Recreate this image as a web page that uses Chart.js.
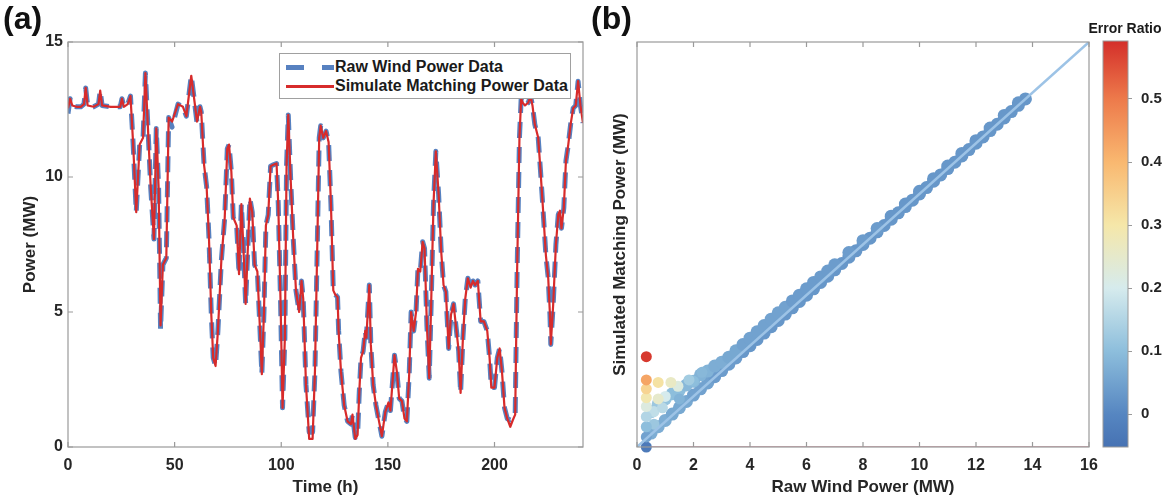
<!DOCTYPE html>
<html>
<head>
<meta charset="utf-8">
<title>Raw vs simulated wind power</title>
<script src="https://cdn.jsdelivr.net/npm/chart.js@4.4.1/dist/chart.umd.min.js"></script>
<style>
  body { margin: 0; background: #fff; }
  #wrap { position: relative; width: 1174px; height: 502px; overflow: hidden;
          font-family: "Liberation Sans", Arial, Helvetica, sans-serif; color: #1a1a1a; }
  canvas { position: absolute; top: 0; }
  .tag { position: absolute; top: 2px; font-size: 32px; font-weight: bold; line-height: 1; color: #111; }
  #legA { position: absolute; left: 279px; top: 53px; width: 290px; height: 44px;
          border: 1px solid #a0a0a0; background: #fff; z-index: 2; }
  #legA .sw { position: absolute; }
  #legA .txt { position: absolute; left: 55px; font-size: 16px; font-weight: bold; line-height: 20px; white-space: nowrap; }
  #cbTitle { position: absolute; left: 1080px; top: 19px; width: 90px; text-align: center;
             font-size: 14px; font-weight: bold; line-height: 18px; }
</style>
</head>
<body>
<div id="wrap">
  <canvas id="chartA" width="600" height="502" style="left:0"></canvas>
  <canvas id="chartB" width="520" height="502" style="left:590px"></canvas>
  <canvas id="chartC" width="84" height="502" style="left:1090px"></canvas>
  <div class="tag" style="left:3px">(a)</div>
  <div class="tag" style="left:591px">(b)</div>
  <div id="legA">
    <div class="sw" style="left:6px;top:11px;width:18px;height:5px;background:#5781c0"></div>
    <div class="sw" style="left:42px;top:11px;width:12px;height:5px;background:#5781c0"></div>
    <div class="txt" style="top:3px">Raw Wind Power Data</div>
    <div class="sw" style="left:6px;top:31px;width:48px;height:2.5px;background:#d72b2b"></div>
    <div class="txt" style="top:22px">Simulate Matching Power Data</div>
  </div>
  <div id="cbTitle">Error Ratio</div>
</div>
<script>
// ---------- data ----------
// (a) time series, hours
const timeH = [
  0, 1, 2, 4, 6, 7.5, 8.3, 9.2, 12, 14.3,
  15.1, 16, 20, 24.5, 25.3, 26.2, 28, 29.3, 30.5, 32,
  33.6, 35.2, 36.3, 37.5, 38.8, 40.3, 41.4, 42.5, 43.4, 44.5,
  46.1, 47.2, 48.8, 51.6, 53.9, 55.5, 57.8, 59, 60.5, 61.9,
  62.5, 63.8, 65, 66.1, 67.2, 68.1, 69.2, 70.3, 71.9, 73.5,
  74.7, 75.5, 76.6, 77.5, 79.1, 80.2, 81.3, 82.2, 83.3, 84.4,
  85.3, 86.4, 87.5, 88.8, 90, 90.9, 91.9, 92.8, 93.9, 95,
  96.3, 97.8, 98.6, 99.7, 100.6, 101.7, 102.5, 103.3, 104.4, 105.6,
  106.9, 108.4, 109.5, 110.3, 111.6, 113.1, 114.7, 115.8, 116.9, 117.8,
  118.5, 119.7, 121, 122.2, 123.3, 124.4, 125.3, 126.4, 126.9, 128,
  129.5, 131.1, 132.7, 133.4, 134.7, 135.8, 136.6, 137.4, 138.4, 139.4,
  139.9, 141.3, 142, 143.1, 144.4, 145.6, 147.2, 148.8, 150.3, 151.2,
  153.1, 154.2, 155.3, 156.6, 157.8, 158.9, 160, 160.9, 162.1, 163.2,
  164.1, 165.2, 166.3, 167.2, 168.3, 169.4, 170.3, 171.4, 172.5, 173.8,
  175, 176.1, 177.2, 178.5, 179.6, 180.8, 181.9, 183.2, 184.1, 185.2,
  186.3, 187.5, 188.8, 189.9, 190.9, 192.2, 193.5, 195, 196.6, 197.7,
  198.5, 200, 201.3, 202.4, 203.5, 204.7, 206, 207.4, 208.6, 209.7,
  210.6, 211.7, 212.5, 213.2, 214.3, 215.8, 216.9, 217.8, 218.9, 220.5,
  221.6, 222.8, 224.1, 225.2, 226, 226.4, 227.5, 228.8, 229.9, 230.7,
  231.4, 232.5, 233.5, 234.6, 235.7, 236.9, 238.1, 239.2, 240.3, 241.5
];
const rawPower = [
  12.35, 12.9, 12.65, 12.6, 12.6, 12.7, 13.3, 12.65, 12.6, 12.7,
  13.2, 12.65, 12.6, 12.6, 12.9, 12.6, 12.7, 13.0, 11.3, 8.7,
  11.2, 11.45, 13.85, 11.8, 9.6, 7.7, 11.8, 9.6, 4.35, 6.75,
  7.0, 12.2, 11.85, 12.7, 12.6, 12.25, 13.75, 13.0, 12.0, 12.6,
  12.4, 10.45, 9.65, 7.75, 4.9, 3.3, 3.0, 4.3, 6.9, 8.5,
  11.05, 11.2, 10.2, 8.5, 8.2, 6.4, 9.0, 7.5, 5.3, 7.5,
  9.2, 8.7, 6.75, 6.5, 4.4, 2.7, 5.0, 8.2, 8.6, 10.4,
  10.45, 10.5, 9.0, 5.3, 1.45, 4.05, 10.45, 12.3, 9.95, 7.75,
  5.8, 5.0, 6.15, 5.5, 2.3, 0.55, 0.55, 2.8, 7.5, 11.45,
  11.9, 11.45, 11.7, 11.3, 9.0, 5.8, 5.65, 5.55, 4.3, 2.8,
  1.55, 0.95, 0.85, 1.2, 0.35, 0.45, 2.05, 3.3, 3.55, 4.3,
  4.05, 6.0, 3.8, 2.3, 1.55, 1.05, 0.4, 1.3, 1.65, 1.35,
  3.4, 2.8, 1.8, 1.7, 1.05, 0.95, 2.7, 5.0, 4.3, 5.0,
  6.6, 6.5, 7.6, 7.35, 4.5, 2.55, 5.3, 9.0, 10.95, 9.35,
  7.25, 6.0, 5.75, 3.65, 4.9, 5.3, 4.5, 3.55, 2.0, 4.05,
  5.5, 6.25, 5.9, 6.15, 6.0, 6.15, 4.65, 4.65, 4.3, 3.3,
  2.2, 2.2, 3.3, 3.65, 2.8, 1.45, 1.05, 1.0, 1.05, 1.2,
  6.5, 11.45, 12.9, 12.75, 12.65, 12.75, 13.0, 12.65, 11.95, 11.45,
  10.2, 8.75, 7.1, 6.25, 4.9, 3.8, 5.25, 7.5, 8.6, 8.75,
  8.1, 8.85, 10.6, 11.2, 11.95, 12.55, 12.65, 13.55, 12.65, 12.0
];
const simPower = [
  12.55, 12.9, 12.65, 12.6, 12.6, 12.7, 13.3, 12.65, 12.6, 12.7,
  13.2, 12.65, 12.6, 12.6, 12.9, 12.6, 12.7, 13.0, 11.3, 8.7,
  11.2, 11.45, 13.85, 11.8, 9.6, 7.7, 11.8, 9.6, 4.5, 6.75,
  7.0, 12.2, 12.05, 12.7, 12.6, 12.25, 13.75, 13.0, 12.05, 12.6,
  12.4, 10.45, 9.65, 7.75, 4.9, 3.3, 3.0, 4.3, 6.9, 8.5,
  11.05, 11.2, 10.2, 8.5, 8.2, 6.4, 9.0, 7.5, 5.3, 7.5,
  9.2, 8.7, 6.75, 6.5, 4.4, 2.7, 5.0, 8.2, 8.6, 10.4,
  10.45, 10.5, 9.0, 5.3, 1.45, 4.05, 10.45, 12.3, 9.95, 7.75,
  5.8, 5.0, 6.15, 5.5, 2.3, 0.3, 0.3, 2.8, 7.5, 11.45,
  11.9, 11.45, 11.7, 11.3, 9.0, 5.8, 5.65, 5.55, 4.3, 2.8,
  1.55, 0.95, 0.85, 1.2, 0.3, 0.45, 2.05, 3.3, 3.55, 4.3,
  4.05, 6.0, 3.8, 2.3, 1.55, 1.05, 0.4, 1.3, 1.65, 1.35,
  3.4, 2.8, 1.8, 1.7, 1.05, 0.95, 2.7, 5.0, 4.3, 5.0,
  6.6, 6.5, 7.6, 7.35, 4.5, 2.55, 5.3, 9.0, 10.95, 9.35,
  7.25, 6.0, 5.75, 3.65, 4.9, 5.3, 4.5, 3.55, 2.0, 4.05,
  5.5, 6.25, 5.9, 6.15, 6.0, 6.15, 4.65, 4.65, 4.3, 3.3,
  2.2, 2.2, 3.3, 3.65, 2.8, 1.45, 1.05, 0.75, 1.0, 1.2,
  6.5, 11.45, 12.9, 12.75, 12.65, 12.75, 13.0, 12.65, 11.95, 11.45,
  10.2, 8.75, 7.1, 6.25, 4.9, 3.8, 5.25, 7.5, 8.6, 8.75,
  8.1, 8.85, 10.6, 11.2, 11.95, 12.55, 12.65, 13.55, 12.65, 12.0
];

// (b) scatter: main band along the diagonal
const bandRaw = [0.5, 0.75, 1, 1.25, 1.5, 1.75, 2, 2.25, 2.5, 2.75, 3, 3.25, 3.5, 3.75, 4, 4.25, 4.5, 4.75,
  5, 5.25, 5.5, 5.75, 6, 6.25, 6.5, 6.75, 7, 7.25, 7.5, 7.75, 8, 8.25, 8.5, 8.75, 9, 9.25, 9.5, 9.75,
  10, 10.25, 10.5, 10.75, 11, 11.25, 11.5, 11.75, 12, 12.25, 12.5, 12.75, 13, 13.25, 13.5, 13.75];
const bandSim = [0.55, 0.8, 1.05, 1.3, 1.55, 1.8, 2.05, 2.3, 2.53, 2.78, 3.02, 3.27, 3.52, 3.77, 4.0, 4.25, 4.5, 4.75,
  5.0, 5.25, 5.5, 5.75, 6.0, 6.25, 6.5, 6.75, 7.0, 7.25, 7.5, 7.75, 8.0, 8.25, 8.5, 8.75, 9.0, 9.25, 9.5, 9.75,
  10.0, 10.25, 10.5, 10.75, 11.0, 11.25, 11.5, 11.75, 12.0, 12.25, 12.5, 12.75, 13.0, 13.25, 13.5, 13.75];
const bandErr = [0.07, 0.07, 0.07, 0.06, 0.06, 0.06, 0.05, 0.05, 0.05, 0.04, 0.04, 0.04, 0.04, 0.03, 0.03, 0.03, 0.03, 0.03,
  0.03, 0.03, 0.03, 0.03, 0.03, 0.03, 0.03, 0.03, 0.03, 0.03, 0.03, 0.03, 0.03, 0.03, 0.03, 0.03, 0.03, 0.03, 0.03, 0.03,
  0.03, 0.03, 0.03, 0.03, 0.03, 0.03, 0.03, 0.03, 0.03, 0.03, 0.03, 0.03, 0.03, 0.03, 0.03, 0.03];
// upper edge of the band
const upperRaw = [0.5, 0.75, 1, 1.25, 1.5, 1.75, 2, 2.25, 2.5, 2.75, 3, 3.25, 3.5, 3.75, 4, 4.25,
  4.5, 4.75, 5, 5.25, 5.5, 5.75, 6, 6.25, 6.5, 6.75, 7, 7.5, 8, 8.5, 9, 9.5, 10, 10.5, 11, 11.5, 12, 12.5, 13, 13.5];
const upperSim = [1.4, 1.7, 1.9, 2.1, 2.25, 2.45, 2.6, 2.85, 3.0, 3.2, 3.35, 3.55, 3.8, 4.05, 4.3, 4.55,
  4.8, 5.05, 5.3, 5.52, 5.77, 6.0, 6.25, 6.5, 6.72, 6.95, 7.2, 7.68, 8.15, 8.63, 9.12, 9.6, 10.1, 10.6, 11.1, 11.6, 12.1, 12.6, 13.1, 13.6];
const upperErr = [0.12, 0.12, 0.11, 0.1, 0.1, 0.09, 0.09, 0.08, 0.08, 0.07, 0.07, 0.06, 0.06, 0.05, 0.05, 0.05,
  0.05, 0.05, 0.05, 0.05, 0.04, 0.04, 0.04, 0.04, 0.04, 0.04, 0.04, 0.04, 0.04, 0.04, 0.03, 0.03, 0.03, 0.03, 0.03, 0.03, 0.03, 0.03, 0.03, 0.03];
// low-power outliers
const outRaw = [0.33, 0.33, 1.5, 2.3, 2.0, 1.84, 0.6, 0.33, 0.6, 1.0, 0.33, 0.9, 1.45, 0.75, 1.2, 0.33, 0.33, 0.75, 0.33, 0.33, 0.33];
const outSim = [0.0, 0.4, 1.9, 2.95, 2.6, 2.65, 0.9, 0.8, 1.4, 2.0, 1.2, 1.55, 2.4, 1.9, 2.55, 1.6, 1.95, 2.55, 2.3, 2.65, 3.57];
const outErr = [-0.03, 0.05, 0.08, 0.09, 0.1, 0.13, 0.12, 0.1, 0.17, 0.2, 0.15, 0.16, 0.22, 0.25, 0.26, 0.22, 0.29, 0.31, 0.34, 0.43, 0.58];

// tick labels
const timeTicks = [0, 50, 100, 150, 200];
const powerTicks = [0, 5, 10, 15];
const rawTicks = [0, 2, 4, 6, 8, 10, 12, 14, 16];
const errTicks = [0, 0.1, 0.2, 0.3, 0.4, 0.5];

// colour bar (error ratio -> colour)
const cbValues = [-0.052, 0.0, 0.1, 0.2, 0.3, 0.4, 0.5, 0.592];
const cbColors = ['#4672b3', '#5686c1', '#8dbedc', '#d6ebed', '#f5e7a9', '#f9b870', '#ed7a4b', '#d42f2a'];

// ---------- helpers ----------
const rawColor = '#5781c0';
const simColor = '#d72b2b';
const frameColor = '#9a9a9a';

Chart.defaults.font.family = '"Liberation Sans", Arial, Helvetica, sans-serif';
Chart.defaults.color = '#262626';

function hexToRgb(h) {
  const n = parseInt(h.slice(1), 16);
  return [(n >> 16) & 255, (n >> 8) & 255, n & 255];
}
function colorAt(v) {
  if (v <= cbValues[0]) return cbColors[0];
  for (let i = 1; i < cbValues.length; i++) {
    if (v <= cbValues[i]) {
      const t = (v - cbValues[i - 1]) / (cbValues[i] - cbValues[i - 1]);
      const a = hexToRgb(cbColors[i - 1]), b = hexToRgb(cbColors[i]);
      const c = a.map((x, k) => Math.round(x + (b[k] - x) * t));
      return `rgb(${c[0]},${c[1]},${c[2]})`;
    }
  }
  return cbColors[cbColors.length - 1];
}

// box round the axes + short ticks pointing inwards (MATLAB look)
const boxPlugin = {
  id: 'box',
  afterDraw(chart, args, opts) {
    const { ctx, chartArea: a, scales } = chart;
    const len = 5;
    ctx.save();
    ctx.strokeStyle = frameColor;
    ctx.lineWidth = 1.2;
    ctx.strokeRect(a.left, a.top, a.right - a.left, a.bottom - a.top);
    ctx.beginPath();
    (opts.xTicks || []).forEach(v => {
      const px = scales.x.getPixelForValue(v);
      ctx.moveTo(px, a.bottom); ctx.lineTo(px, a.bottom - len);
      ctx.moveTo(px, a.top); ctx.lineTo(px, a.top + len);
    });
    (opts.yTicks || []).forEach(v => {
      const py = scales.y.getPixelForValue(v);
      ctx.moveTo(a.left, py); ctx.lineTo(a.left + len, py);
      ctx.moveTo(a.right, py); ctx.lineTo(a.right - len, py);
    });
    ctx.stroke();
    ctx.restore();
  }
};

// gradient fill for the colour bar
const colorbarPlugin = {
  id: 'cbar',
  beforeDatasetsDraw(chart) {
    const { ctx, chartArea: a, scales: { y } } = chart;
    const lo = cbValues[0], hi = cbValues[cbValues.length - 1];
    const g = ctx.createLinearGradient(0, y.getPixelForValue(lo), 0, y.getPixelForValue(hi));
    cbValues.forEach((v, i) => g.addColorStop((v - lo) / (hi - lo), cbColors[i]));
    ctx.save();
    ctx.fillStyle = g;
    ctx.fillRect(a.left, a.top, a.right - a.left, a.bottom - a.top);
    ctx.strokeStyle = frameColor;
    ctx.lineWidth = 1;
    ctx.strokeRect(a.left, a.top, a.right - a.left, a.bottom - a.top);
    ctx.restore();
  }
};

const tickFont = { size: 16, weight: 'bold' };
const titleFont = { size: 17, weight: 'bold' };
const noGrid = { display: false, drawTicks: false };

// ---------- (a) time series ----------
new Chart(document.getElementById('chartA'), {
  type: 'line',
  data: {
    datasets: [
      {
        label: 'Simulate Matching Power Data',
        data: timeH.map((t, i) => ({ x: t, y: simPower[i] })),
        borderColor: simColor, borderWidth: 2.2, borderJoinStyle: 'round',
        pointRadius: 0, order: 0
      },
      {
        label: 'Raw Wind Power Data',
        data: timeH.map((t, i) => ({ x: t, y: rawPower[i] })),
        borderColor: rawColor, borderWidth: 5, borderDash: [16, 9], borderJoinStyle: 'round',
        pointRadius: 0, order: 1
      }
    ]
  },
  options: {
    responsive: false, animation: false, events: [],
    layout: { padding: { top: 42, right: 17, left: 0, bottom: 0 } },
    plugins: {
      legend: { display: false }, tooltip: { enabled: false },
      box: { xTicks: timeTicks, yTicks: powerTicks }
    },
    scales: {
      x: {
        type: 'linear', min: 0, max: 241.5,
        grid: noGrid, border: { display: false },
        afterBuildTicks: s => { s.ticks = timeTicks.map(v => ({ value: v })); },
        afterFit: s => { s.height = 55; },
        ticks: { font: tickFont, padding: 9, maxRotation: 0 },
        title: { display: true, text: 'Time (h)', font: titleFont, padding: { top: 0, bottom: 4 } }
      },
      y: {
        min: 0, max: 15,
        grid: noGrid, border: { display: false },
        afterBuildTicks: s => { s.ticks = powerTicks.map(v => ({ value: v })); },
        afterFit: s => { s.width = 68; },
        ticks: { font: tickFont, padding: 5 },
        title: { display: true, text: 'Power (MW)', font: titleFont, padding: { top: 20, bottom: 0 } }
      }
    }
  },
  plugins: [boxPlugin]
});

// ---------- (b) raw vs simulated scatter ----------
const scatterRaw = bandRaw.concat(upperRaw, outRaw);
const scatterSim = bandSim.concat(upperSim, outSim);
const scatterErr = bandErr.concat(upperErr, outErr);
const scatterSize = scatterRaw.map((r, i) => (i < bandRaw.length + upperRaw.length ? 6.5 : 5.5));

new Chart(document.getElementById('chartB'), {
  type: 'scatter',
  data: {
    datasets: [
      {
        label: 'y = x',
        data: [{ x: 0, y: 0 }, { x: 16, y: 16 }],
        showLine: true, borderColor: '#9dc3e6', borderWidth: 2.5, pointRadius: 0, order: 0
      },
      {
        label: 'zero',
        data: [{ x: 0.5, y: 0 }, { x: 16, y: 0 }],
        showLine: true, borderColor: 'rgba(180,90,110,0.7)', borderWidth: 1.5, pointRadius: 0, order: 1
      },
      {
        label: 'points',
        data: scatterRaw.map((r, i) => ({ x: r, y: scatterSim[i] })),
        backgroundColor: scatterErr.map(colorAt),
        pointRadius: scatterSize, pointBorderWidth: 0, clip: 8, order: 2
      }
    ]
  },
  options: {
    responsive: false, animation: false, events: [],
    layout: { padding: { top: 42, right: 21, left: 0, bottom: 0 } },
    plugins: {
      legend: { display: false }, tooltip: { enabled: false },
      box: { xTicks: rawTicks, yTicks: [] }
    },
    scales: {
      x: {
        type: 'linear', min: 0, max: 16,
        grid: noGrid, border: { display: false },
        afterBuildTicks: s => { s.ticks = rawTicks.map(v => ({ value: v })); },
        afterFit: s => { s.height = 55; },
        ticks: { font: tickFont, padding: 9, maxRotation: 0 },
        title: { display: true, text: 'Raw Wind Power (MW)', font: titleFont, padding: { top: 0, bottom: 4 } }
      },
      y: {
        min: 0, max: 16,
        grid: noGrid, border: { display: false },
        ticks: { display: false },
        afterFit: s => { s.width = 47; },
        title: { display: true, text: 'Simulated Matching Power (MW)', font: titleFont, padding: { top: 20, bottom: 0 } }
      }
    }
  },
  plugins: [boxPlugin]
});

// ---------- colour bar ----------
new Chart(document.getElementById('chartC'), {
  type: 'scatter',
  data: { datasets: [{ data: [] }] },
  options: {
    responsive: false, animation: false, events: [],
    layout: { padding: { top: 41, right: 0, left: 13, bottom: 55 } },
    plugins: { legend: { display: false }, tooltip: { enabled: false } },
    scales: {
      x: { display: false, min: 0, max: 1 },
      y: {
        position: 'right',
        min: cbValues[0], max: cbValues[cbValues.length - 1],
        grid: { display: true, drawOnChartArea: false, drawTicks: true, tickLength: 4, color: frameColor },
        border: { display: false },
        afterBuildTicks: s => { s.ticks = errTicks.map(v => ({ value: v })); },
        afterFit: s => { s.width = 46; },
        ticks: { font: { size: 15, weight: 'bold' }, padding: 9, callback: v => (v === 0 ? '0' : v.toFixed(1)) }
      }
    }
  },
  plugins: [colorbarPlugin]
});
</script>
</body>
</html>
